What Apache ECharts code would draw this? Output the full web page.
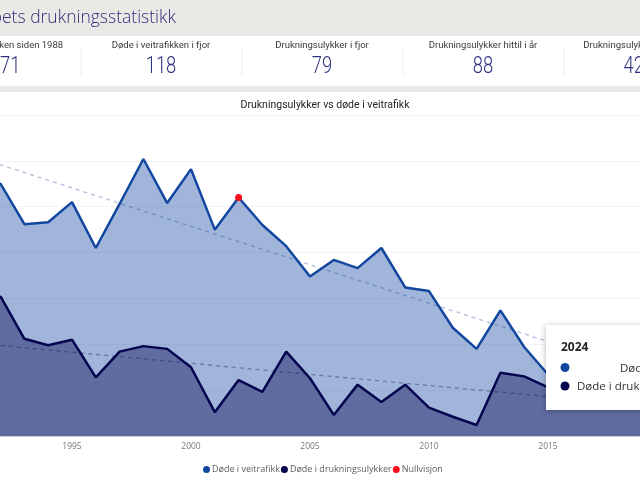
<![CDATA[<!DOCTYPE html>
<html>
<head>
<meta charset="utf-8">
<script src="https://cdn.jsdelivr.net/npm/echarts@6/dist/echarts.min.js"></script>
<style>
html, body { margin: 0; padding: 0; background: #fff; }
#main { width: 640px; height: 480px; }
</style>
</head>
<body>
<div id="main"></div>
<script>
var years = [1988, 1989, 1990, 1991, 1992, 1993, 1994, 1995, 1996, 1997, 1998, 1999, 2000, 2001, 2002, 2003, 2004, 2005,
    2006, 2007, 2008, 2009, 2010, 2011, 2012, 2013, 2014, 2015, 2016, 2017, 2018, 2019, 2020, 2021, 2022, 2023, 2024];
var veitrafikk = [378, 381, 332, 323, 325, 281, 283, 305, 255, 303, 352, 304, 341, 275, 310, 280, 257, 224,
    242, 233, 255, 212, 208, 168, 145, 187, 147, 117, 135, 106, 108, 108, 93, 80, 116, 110, 118];
var drukning = [190, 175, 185, 195, 202, 156, 149, 155, 114, 142, 148, 145, 125, 76, 111, 98, 142, 113,
    73, 106, 87, 106, 81, 71, 62, 119, 115, 103, 96, 100, 110, 92, 95, 90, 85, 79, 88];
var nullvisjon = [[2002, 310]];
var trendVeitrafikk = [[1991, 354], [2015, 153]];
var trendDrukning = [[1991, 151], [2015, 93]];

var kpiLabels = ['Døde i veitrafikken siden 1988', 'Døde i veitrafikken i fjor', 'Drukningsulykker i fjor', 'Drukningsulykker hittil i år', 'Drukningsulykker siden 1988'];
var kpiValues = ['8571', '118', '79', '88', '4248'];

// trend lines only have their two ends, connectNulls draws the rest
function pointData(points) {
    return years.map(function (y) {
        var hit = points.filter(function (e) { return e[0] === y; });
        return hit.length ? hit[0][1] : null;
    });
}

var font = 'Roboto';
var graphics = [
    { type: 'rect', z: 0, shape: { x: 0, y: 0, width: 640, height: 36 }, style: { fill: '#ebe9e5' } },
    { type: 'rect', z: 0, shape: { x: 0, y: 86, width: 640, height: 6 }, style: { fill: '#ebe9e5' } },
    { type: 'text', z: 1, x: 176, y: 18, style: { text: 'Redningsselskapets drukningsstatistikk', align: 'right', verticalAlign: 'middle', fill: '#2f2f7f', font: '300 17.5px "Open Sans"' } }
];
kpiLabels.forEach(function (label, i) {
    var cx = i * 161;
    graphics.push({ type: 'text', z: 1, x: cx, y: 45.5, style: { text: label, align: 'center', verticalAlign: 'middle', fill: '#3a3a3a', font: '400 9.5px ' + font } });
    // big numbers are narrower than Roboto, so squeeze them
    graphics.push({ type: 'text', z: 1, x: cx, y: 67, scaleX: 0.8, style: { text: kpiValues[i], align: 'center', verticalAlign: 'middle', fill: '#2f3480', font: '300 23px ' + font } });
    if (i < 4) {
        graphics.push({ type: 'line', z: 1, shape: { x1: cx + 81, y1: 48, x2: cx + 81, y2: 76 }, style: { stroke: '#eeeeee', lineWidth: 1 } });
    }
});
// the pinned tooltip box
graphics.push({ type: 'rect', z: 100, shape: { x: 546, y: 325, width: 110, height: 85 }, style: { fill: '#fff', shadowBlur: 6, shadowColor: 'rgba(0,0,0,0.3)', shadowOffsetY: 1 } });
graphics.push({ type: 'text', z: 101, x: 561, y: 348, style: { text: '2024', verticalAlign: 'middle', fill: '#252423', font: '700 12px "Open Sans"' } });
graphics.push({ type: 'circle', z: 101, shape: { cx: 565, cy: 367.5, r: 4.5 }, style: { fill: '#12479f' } });
graphics.push({ type: 'text', z: 101, x: 620, y: 369, style: { text: 'Døde i veitrafikk', verticalAlign: 'middle', fill: '#333', font: '400 11.5px "Open Sans"' } });
graphics.push({ type: 'circle', z: 101, shape: { cx: 565, cy: 386, r: 4.5 }, style: { fill: '#05054f' } });
graphics.push({ type: 'text', z: 101, x: 577, y: 387, style: { text: 'Døde i drukningsulykker', verticalAlign: 'middle', fill: '#333', font: '400 11.5px "Open Sans"' } });

var option = {
    animation: false,
    backgroundColor: '#fff',
    title: {
        text: 'Drukningsulykker vs døde i veitrafikk',
        left: 320,
        top: 95,
        textAlign: 'center',
        textStyle: { fontFamily: font, fontSize: 10.5, fontWeight: 400, color: '#252423' }
    },
    legend: {
        data: ['Døde i veitrafikk', 'Døde i drukningsulykker', 'Nullvisjon'],
        left: 198,
        top: 460,
        icon: 'circle',
        itemWidth: 7,
        itemHeight: 7,
        itemGap: 1,
        textStyle: { fontFamily: '"Open Sans"', fontSize: 9, color: '#605e5c', padding: [0, 0, 0, -3] }
    },
    grid: { left: -94.6, width: 856.8, top: 115, height: 321, outerBoundsMode: 'none' },
    xAxis: {
        type: 'category',
        data: years,
        boundaryGap: false,
        axisTick: { show: false },
        axisLine: { lineStyle: { color: '#c8cfe0', width: 1 } },
        axisLabel: {
            fontFamily: '"Open Sans"',
            fontSize: 8.5,
            color: '#777',
            margin: 6,
            interval: function (i, v) { return Number(v) % 5 === 0; }
        }
    },
    yAxis: {
        type: 'value',
        min: 50,
        max: 400,
        interval: 50,
        axisLabel: { show: false },
        axisLine: { show: false },
        axisTick: { show: false },
        splitLine: { lineStyle: { color: '#f3f3f3', width: 1 } }
    },
    series: [
        {
            name: 'Døde i veitrafikk',
            type: 'line',
            data: veitrafikk,
            symbol: 'none',
            color: '#12479f',
            lineStyle: { width: 2.5, color: '#12479f' },
            areaStyle: { color: '#12479f', opacity: 0.4, origin: 'start' }
        },
        {
            name: 'Døde i drukningsulykker',
            type: 'line',
            data: drukning,
            symbol: 'none',
            color: '#05054f',
            lineStyle: { width: 2.5, color: '#05054f' },
            areaStyle: { color: '#05054f', opacity: 0.41, origin: 'start' }
        },
        {
            name: 'trend veitrafikk',
            type: 'line',
            data: pointData(trendVeitrafikk),
            connectNulls: true,
            symbol: 'none',
            lineStyle: { width: 1.3, type: [4, 4], color: 'rgba(18,71,159,0.35)' }
        },
        {
            name: 'trend drukning',
            type: 'line',
            data: pointData(trendDrukning),
            connectNulls: true,
            symbol: 'none',
            lineStyle: { width: 1.3, type: [4, 4], color: 'rgba(5,5,79,0.35)' }
        },
        {
            name: 'Nullvisjon',
            type: 'line',
            data: pointData(nullvisjon),
            symbol: 'circle',
            symbolSize: 7,
            showSymbol: true,
            color: '#fd0d1b',
            itemStyle: { color: '#fd0d1b' },
            lineStyle: { width: 0 },
            z: 5
        }
    ],
    graphic: graphics
};

var chart = echarts.init(document.getElementById('main'));
chart.setOption(option);
</script>
</body>
</html>
]]>
